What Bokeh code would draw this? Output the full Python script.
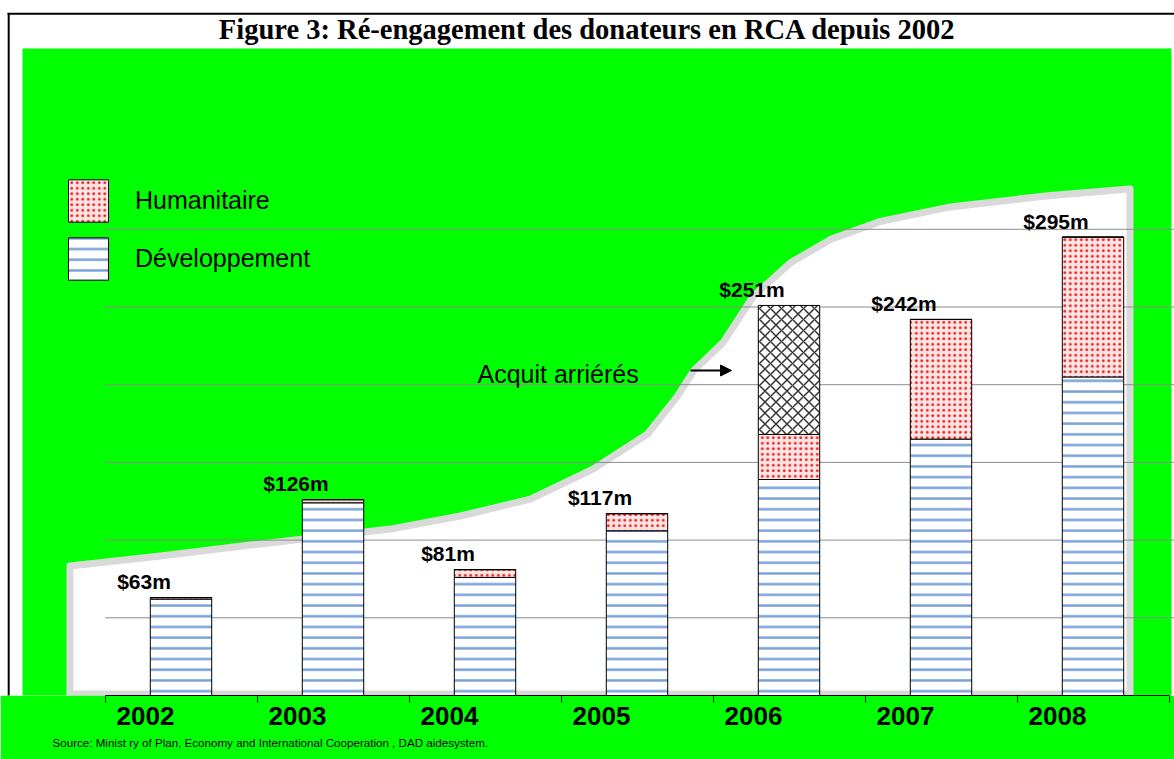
from bokeh.plotting import figure
from bokeh.models import (Range1d, LinearAxis, FixedTicker, ColumnDataSource, Legend,
                          LegendItem, Label, Arrow, NormalHead, Title)
from bokeh.transform import dodge
from bokeh.core.properties import value
from bokeh.embed import file_html
from bokeh.resources import INLINE

# ---------------- data ----------------
years = [2002, 2003, 2004, 2005, 2006, 2007, 2008]
year_labels = ["2002", "2003", "2004", "2005", "2006", "2007", "2008"]
developpement = [62, 124, 76, 106, 139, 165, 205]
humanitaire = [1, 2, 5, 11, 29, 77, 90]
acquit_arrieres = [0, 0, 0, 0, 83, 0, 0]
grid_values = [50, 100, 150, 200, 250, 300]
legend_labels = ["Humanitaire", "Développement"]
title_text = "Figure 3: Ré-engagement des donateurs en RCA depuis 2002"
source_text = "Source:  Minist ry of Plan, Economy and International  Cooperation , DAD aidesystem."
arrears_text = "Acquit arriérés"
# white "swoosh" background shape (x in year units, y in $m)
swoosh_x = [2001.503, 2001.503, 2002.099, 2002.691, 2003.612, 2004.072, 2004.533, 2004.947,
            2005.303, 2005.500, 2005.605, 2005.803, 2006.000, 2006.243, 2006.507, 2006.836,
            2007.296, 2007.954, 2008.477, 2008.477]
swoosh_y = [1.0, 83.3, 89.8, 96.8, 107.1, 115.5, 126.4, 145.8, 168.3, 192.7, 208.8, 227.5,
            257.1, 278.4, 293.5, 305.1, 314.4, 321.8, 325.9, 1.0]

totals = [d + h + a for d, h, a in zip(developpement, humanitaire, acquit_arrieres)]
value_labels = ["$%dm" % t for t in totals]

# ---------------- layout helpers ----------------
W, H = 1174, 759
PX_CAT = 152.0          # pixels per category
PX_UNIT = 1.554         # pixels per $m
LABEL_PX0 = 145.0       # x of first year label
AXIS_PY = 695.0         # y of axis line
x_start = years[0] + (0 - LABEL_PX0) / PX_CAT
x_end = years[0] + (W - LABEL_PX0) / PX_CAT
y_end = AXIS_PY / PX_UNIT
bar_shift = 0.2336
bar_width = 0.404
bound_shift = -0.2664


def X(px):
    return x_start + px / PX_CAT


def Y(py):
    return (AXIS_PY - py) / PX_UNIT


GREEN = "#00ff00"
SANS = "Liberation Sans"

p = figure(width=W, height=H, x_range=Range1d(x_start, x_end), y_range=Range1d(0, y_end),
           x_axis_type=None, y_axis_type=None, toolbar_location=None, output_backend="svg",
           min_border=0, min_border_bottom=H - int(AXIS_PY), background_fill_color="white",
           border_fill_color=GREEN, outline_line_color=None)

# green background
p.quad(left=X(22), right=X(1171), top=Y(48), bottom=Y(900), fill_color=GREEN, line_color=None)
# black frame lines
p.segment(x0=[X(8.2), X(7)], y0=[Y(12.5), Y(13.2)], x1=[X(8.2), X(1200)], y1=[Y(900), Y(13.2)],
          line_color="black", line_width=2)
# white swoosh
p.patch(swoosh_x, swoosh_y, fill_color="white", line_color="#d9d9d9", line_width=7,
        line_join="round")
# gridlines
p.segment(x0=years[0] + bound_shift, x1=x_end + 1, y0=grid_values, y1=grid_values,
          line_color="#8c8c8c", line_width=1)

src = ColumnDataSource(dict(year=years, dev=developpement, hum=humanitaire,
                            arr=acquit_arrieres, total=totals, label=value_labels))

rs = p.vbar_stack(["dev", "hum", "arr"], x=dodge("year", bar_shift, range=p.x_range),
                  width=bar_width, source=src,
                  fill_color=["white", "#ffe4e4", "white"], line_color="black", line_width=1,
                  hatch_pattern=["horizontal_line", "dot", "diagonal_cross"],
                  hatch_color=["#79a2d8", "#f01818", "#333333"],
                  hatch_scale=[10.7, 5.5, 11], hatch_weight=[2.5, 2.6, 1.5])

p.text(x=dodge("year", bar_shift, range=p.x_range), y="total", text="label", source=src,
       x_offset=-37, y_offset=-16, text_align="center", text_baseline="alphabetic",
       text_font=value(SANS), text_font_style="bold", text_font_size="21px", text_color="black")

legend = Legend(items=[LegendItem(label=legend_labels[0], renderers=[rs[1]]),
                       LegendItem(label=legend_labels[1], renderers=[rs[0]])],
                location=(63, 410), orientation="vertical", padding=0, margin=0,
                spacing=5, glyph_width=50, glyph_height=53, label_standoff=22,
                label_text_font=SANS, label_text_font_size="25px", label_text_color="black",
                border_line_color=None, background_fill_alpha=0)
p.add_layout(legend)

p.add_layout(Label(x=X(477), y=Y(373), text=arrears_text, text_align="left",
                   text_baseline="alphabetic", text_font=SANS, text_font_size="25px",
                   text_color="black"))
p.add_layout(Arrow(end=NormalHead(size=11, fill_color="black", line_color="black"),
                   x_start=X(690), y_start=Y(370), x_end=X(731), y_end=Y(370),
                   line_width=2, line_color="black"))
p.add_layout(Label(x=X(587), y=Y(29), text=title_text, text_align="center",
                   text_baseline="alphabetic", text_font="Liberation Serif",
                   text_font_style="bold", text_font_size="28.5px", text_color="black"))

ticker = FixedTicker(ticks=years,
                     minor_ticks=[y + bound_shift for y in years] + [years[-1] + 1 + bound_shift])
ax = LinearAxis(ticker=ticker, bounds=(years[0] + bound_shift, years[-1] + 1 + bound_shift),
                major_label_overrides={y: s for y, s in zip(years, year_labels)},
                axis_line_color="black", axis_line_width=1,
                major_tick_line_color=None, major_tick_out=7, major_tick_in=0,
                minor_tick_line_color="black", minor_tick_out=7, minor_tick_in=0,
                major_label_standoff=4, major_label_text_font=SANS,
                major_label_text_font_style="bold", major_label_text_font_size="26px",
                major_label_text_color="black")
p.add_layout(ax, "below")
p.add_layout(Title(text=source_text, align="left", offset=52, text_font=SANS,
                   text_font_style="normal", text_font_size="11.6px", text_color="black",
                   standoff=12), "below")

open("out.html", "w").write(file_html(p, INLINE))
